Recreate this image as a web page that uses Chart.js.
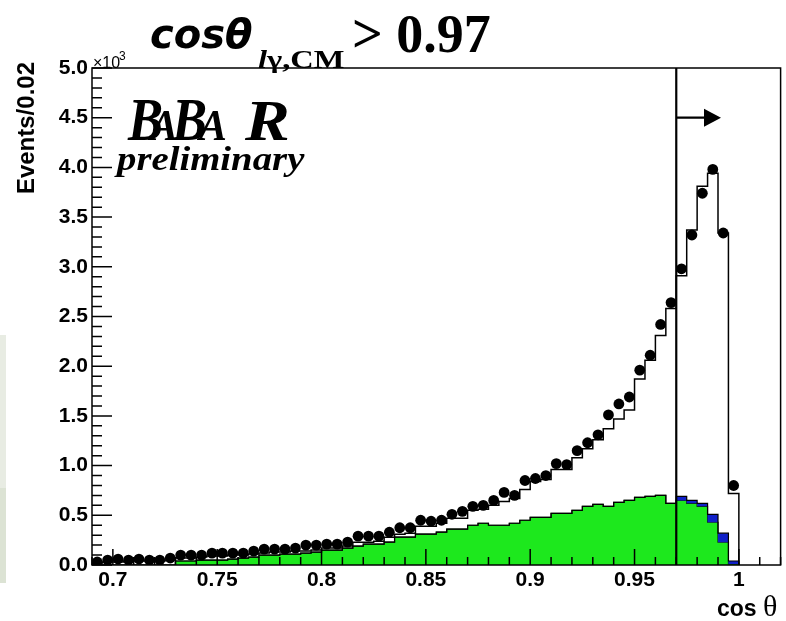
<!DOCTYPE html>
<html>
<head>
<meta charset="utf-8">
<script src="https://cdn.jsdelivr.net/npm/chart.js@4.4.0/dist/chart.umd.min.js"></script>
<style>
  body { margin: 0; background: #fff; }
  #wrap { position: relative; width: 786px; height: 621px; overflow: hidden; }
  #wrap canvas { position: absolute; left: 0; top: 0; }
  .strip { position: absolute; left: 0; width: 6px; }
</style>
</head>
<body>
<div id="wrap">
  <div class="strip" style="top:335px;height:153px;background:#e8ece3"></div>
  <div class="strip" style="top:488px;height:95px;background:#dce3d4"></div>
  <canvas id="cosChart" width="786" height="621"></canvas>
</div>
<script>
// Histogram binning (events in units of 10^3)
const binLow = 0.69;
const binWidth = 0.005;

// Data points, one per bin from 0.69 to 1.0
const dataCounts = [
  0.03, 0.05, 0.06, 0.05, 0.06, 0.05, 0.05, 0.07, 0.10, 0.10,
  0.10, 0.12, 0.12, 0.12, 0.12, 0.14, 0.16, 0.16, 0.16, 0.17,
  0.20, 0.20, 0.21, 0.21, 0.23, 0.29, 0.29, 0.29, 0.33, 0.375,
  0.375, 0.45, 0.44, 0.45, 0.51, 0.54, 0.59, 0.60, 0.65, 0.73,
  0.70, 0.85, 0.87, 0.90, 1.02, 1.01, 1.15, 1.23, 1.31, 1.51,
  1.62, 1.69, 1.96, 2.11, 2.42, 2.64, 2.98, 3.32, 3.74, 3.98,
  3.34, 0.80
];

// Total simulation (open histogram)
const mcTotal = [
  0.02, 0.03, 0.03, 0.04, 0.04, 0.04, 0.04, 0.05, 0.07, 0.07,
  0.08, 0.09, 0.09, 0.10, 0.10, 0.11, 0.12, 0.13, 0.13, 0.14,
  0.14, 0.15, 0.17, 0.17, 0.19, 0.23, 0.23, 0.24, 0.28, 0.31,
  0.32, 0.39, 0.39, 0.42, 0.47, 0.47, 0.55, 0.56, 0.60, 0.64,
  0.67, 0.76, 0.84, 0.86, 0.96, 0.96, 1.08, 1.17, 1.26, 1.37,
  1.47, 1.56, 1.87, 2.06, 2.31, 2.58, 2.91, 3.37, 3.81, 3.94,
  3.34, 0.72
];

// Background components (green, with blue stacked on top)
const bkgGreen = [
  0, 0, 0, 0, 0, 0, 0, 0, 0.04, 0.04,
  0.05, 0.05, 0.05, 0.06, 0.07, 0.08, 0.10, 0.10, 0.11, 0.11,
  0.12, 0.13, 0.15, 0.15, 0.17, 0.19, 0.21, 0.21, 0.23, 0.28,
  0.28, 0.31, 0.31, 0.33, 0.36, 0.36, 0.40, 0.42, 0.40, 0.40,
  0.42, 0.45, 0.48, 0.48, 0.52, 0.52, 0.55, 0.59, 0.61, 0.59,
  0.63, 0.65, 0.68, 0.69, 0.70, 0.62, 0.65, 0.62, 0.59, 0.43,
  0.23, 0.01
];
const bkgBlue = [
  0, 0, 0, 0, 0, 0, 0, 0, 0, 0,
  0, 0, 0, 0, 0, 0, 0, 0, 0, 0,
  0, 0, 0, 0, 0, 0, 0, 0, 0, 0,
  0, 0, 0, 0, 0, 0, 0, 0, 0, 0,
  0, 0, 0, 0, 0, 0, 0, 0, 0, 0,
  0, 0, 0, 0, 0, 0, 0.04, 0.03, 0.03, 0.08,
  0.09, 0.03
];

// Axis ticks and the selection cut
const xTickValues = [0.7, 0.75, 0.8, 0.85, 0.9, 0.95, 1.0];
const xTickLabels = ['0.7', '0.75', '0.8', '0.85', '0.9', '0.95', '1'];
const cutValue = 0.97;
const arrowLevel = 4.5;
const arrowTip = 0.99;

// step outline: each bin value starts at its low edge, last point closes at 0
function stepPoints(values) {
  const pts = values.map((v, i) => ({ x: binLow + i * binWidth, y: v }));
  pts.push({ x: binLow + values.length * binWidth, y: 0 });
  return pts;
}

const greenPlusBlue = bkgGreen.map((v, i) => v + bkgBlue[i]);
const dataPoints = dataCounts.map((v, i) => ({ x: binLow + (i + 0.5) * binWidth, y: v }));

const axisFont = { family: 'Liberation Sans, Arial, sans-serif', size: 21, weight: 'bold' };

// draw text squeezed or stretched horizontally
function stretchText(ctx, text, x, y, sx) {
  ctx.save();
  ctx.translate(x, y);
  ctx.scale(sx, 1);
  ctx.fillText(text, 0, 0);
  ctx.restore();
}

// frame, inside ticks, cut line with arrow, and annotation texts
const decorations = {
  id: 'decorations',
  afterDatasetsDraw(chart) {
    const { ctx, chartArea: a, scales: { x, y } } = chart;
    ctx.save();
    ctx.strokeStyle = '#000';
    ctx.lineWidth = 1.5;

    // x ticks every 0.01, long ones every 0.05
    ctx.beginPath();
    for (let k = Math.ceil(x.min * 100); k <= Math.floor(x.max * 100); k++) {
      const px = x.getPixelForValue(k / 100);
      const len = k % 5 === 0 ? 16 : 8;
      ctx.moveTo(px, a.bottom);
      ctx.lineTo(px, a.bottom - len);
    }
    // y ticks every 0.1, long ones every 0.5
    for (let k = 0; k <= 50; k++) {
      const py = y.getPixelForValue(k / 10);
      const len = k % 5 === 0 ? 20 : 10;
      ctx.moveTo(a.left, py);
      ctx.lineTo(a.left + len, py);
    }
    ctx.stroke();

    ctx.strokeRect(a.left, a.top, a.right - a.left, a.bottom - a.top);

    // cut at cos > 0.97
    const cx = x.getPixelForValue(cutValue);
    ctx.lineWidth = 2.2;
    ctx.beginPath();
    ctx.moveTo(cx, a.top);
    ctx.lineTo(cx, a.bottom);
    const ay = y.getPixelForValue(arrowLevel);
    const tip = x.getPixelForValue(arrowTip);
    ctx.moveTo(cx, ay);
    ctx.lineTo(tip - 14, ay);
    ctx.stroke();
    ctx.fillStyle = '#000';
    ctx.beginPath();
    ctx.moveTo(tip + 3, ay);
    ctx.lineTo(tip - 14, ay - 9);
    ctx.lineTo(tip - 14, ay + 9);
    ctx.closePath();
    ctx.fill();
    ctx.restore();
  },
  afterDraw(chart) {
    const ctx = chart.ctx;
    ctx.save();
    ctx.fillStyle = '#000';
    ctx.textBaseline = 'alphabetic';

    // title
    ctx.font = 'italic bold 40px "DejaVu Sans"';
    ctx.fillText('cosθ', 150, 48);
    ctx.font = 'italic bold 26px "Liberation Serif"';
    stretchText(ctx, 'l', 258, 68, 1.25);
    ctx.font = 'bold 26px "Liberation Serif"';
    stretchText(ctx, 'γ,CM', 267, 68, 1.25);
    ctx.font = 'bold 54px "Liberation Serif"';
    ctx.fillText('> 0.97', 352, 52);

    // exponent of the y axis
    ctx.font = '16px "Liberation Sans"';
    ctx.fillText('×10', 93, 68);
    ctx.font = '12px "Liberation Sans"';
    ctx.fillText('3', 119, 60);

    // y axis title
    ctx.save();
    ctx.translate(34, 62);
    ctx.rotate(-Math.PI / 2);
    ctx.textAlign = 'right';
    ctx.font = 'bold 24px "Liberation Sans"';
    ctx.fillText('Events/0.02', 0, 0);
    ctx.restore();

    // experiment logo
    const logo = [
      { ch: 'B', size: 62, x: 128, sx: 0.85 },
      { ch: 'A', size: 44, x: 150, sx: 0.95 },
      { ch: 'B', size: 62, x: 172, sx: 0.85 },
      { ch: 'A', size: 44, x: 199, sx: 0.95 },
      { ch: 'R', size: 56, x: 245, sx: 1.2 }
    ];
    logo.forEach(l => {
      ctx.font = 'italic bold ' + l.size + 'px "Liberation Serif"';
      stretchText(ctx, l.ch, l.x, 140, l.sx);
    });
    ctx.font = 'italic bold 34px "Liberation Serif"';
    stretchText(ctx, 'preliminary', 117, 170, 1.14);

    // x axis title
    ctx.font = 'bold 23px "Liberation Sans"';
    ctx.fillText('cos', 717, 616);
    ctx.font = '30px "Liberation Serif"';
    ctx.fillText('θ', 763, 616);
    ctx.restore();
  }
};

new Chart(document.getElementById('cosChart'), {
  type: 'line',
  data: {
    datasets: [
      {
        data: stepPoints(bkgGreen),
        stepped: 'before',
        borderColor: '#0b2a0b',
        borderWidth: 1.2,
        backgroundColor: '#1de81d',
        fill: 'origin',
        pointRadius: 0,
        order: 3
      },
      {
        data: stepPoints(greenPlusBlue),
        stepped: 'before',
        borderColor: '#000',
        borderWidth: 1.2,
        backgroundColor: '#1020c8',
        fill: '-1',
        pointRadius: 0,
        order: 2
      },
      {
        data: stepPoints(mcTotal),
        stepped: 'before',
        borderColor: '#000',
        borderWidth: 1.5,
        fill: false,
        pointRadius: 0,
        order: 1
      },
      {
        data: dataPoints,
        showLine: false,
        pointRadius: 5.4,
        pointBorderWidth: 0,
        pointBackgroundColor: '#000',
        order: 0
      }
    ]
  },
  options: {
    responsive: false,
    animation: false,
    layout: { padding: { top: 68, right: 2, left: 0, bottom: 0 } },
    plugins: { legend: { display: false }, tooltip: { enabled: false } },
    scales: {
      x: {
        type: 'linear',
        min: 0.69,
        max: 1.02,
        afterBuildTicks: axis => { axis.ticks = xTickValues.map(v => ({ value: v })); },
        afterFit: axis => { axis.height = 56; },
        ticks: {
          autoSkip: false,
          maxRotation: 0,
          padding: 3,
          color: '#000',
          font: axisFont,
          callback: (value, index) => xTickLabels[index]
        },
        grid: { display: false, drawTicks: false },
        border: { display: false }
      },
      y: {
        min: 0,
        max: 5,
        afterFit: axis => { axis.width = 92; },
        ticks: {
          stepSize: 0.5,
          padding: 4,
          color: '#000',
          font: axisFont,
          callback: value => value.toFixed(1)
        },
        grid: { display: false, drawTicks: false },
        border: { display: false }
      }
    }
  },
  plugins: [decorations]
});
</script>
</body>
</html>
